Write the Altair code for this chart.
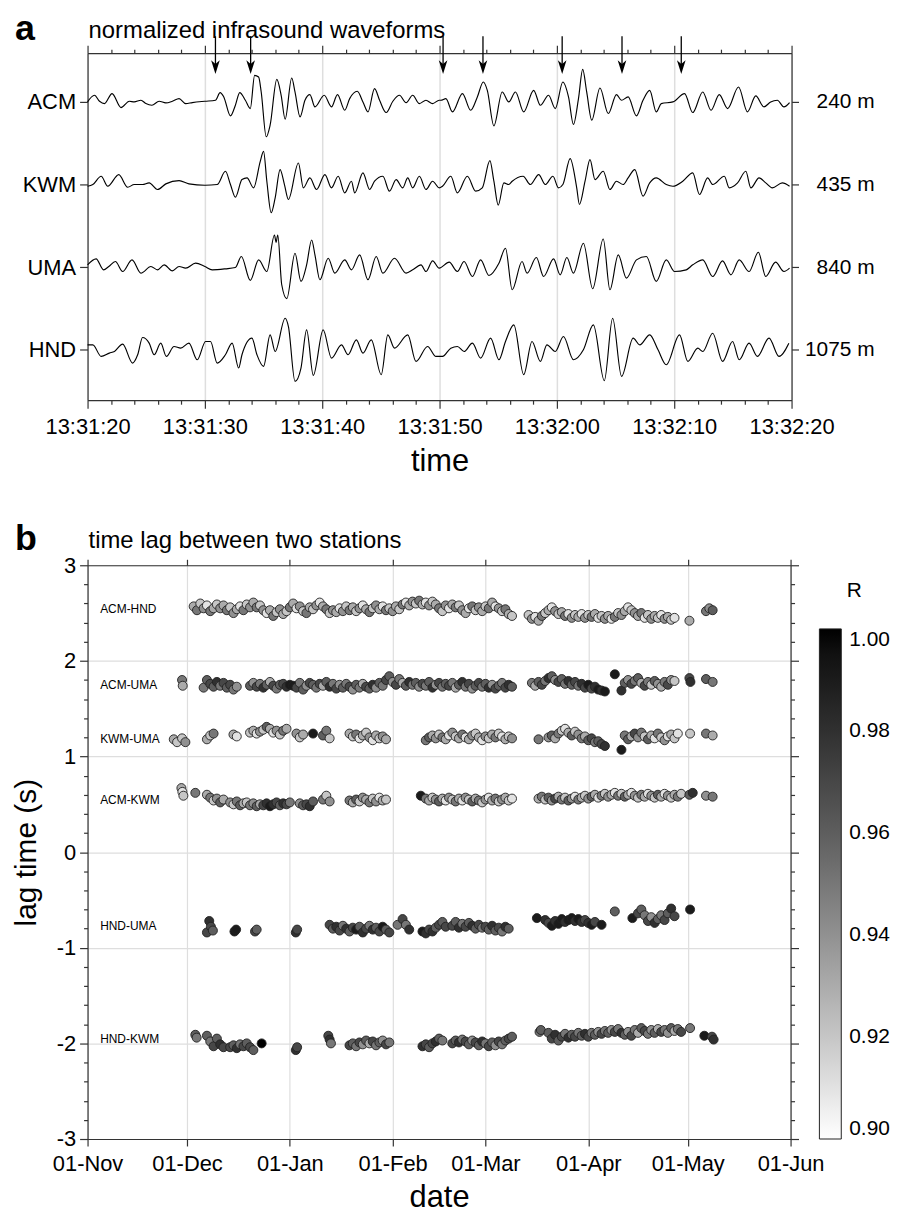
import altair as alt
import pandas as pd

FONT = "Liberation Sans"

# ---------------- panel a: normalized waveforms ----------------
# time in s after 13:31:20, amplitude in arbitrary normalized units
ACM_t = [0, 0.59, 1.02, 1.44, 2.09, 2.85, 3.56, 3.98, 4.55, 4.97, 5.48, 6.10, 6.67, 7.23, 7.80, 8.36, 8.93,
         10.0, 10.90, 11.30, 11.61, 12.18, 12.60, 12.97, 13.45, 13.87, 14.24, 14.58, 14.80, 15.23, 15.56,
         16.13, 16.50, 16.84, 17.40, 17.68, 18.11, 18.53, 18.95, 19.38, 20.17, 20.79, 21.30, 21.92, 22.34,
         22.99, 23.47, 23.90, 24.46, 24.89, 25.45, 26.02, 26.58, 27.15, 27.71, 28.28, 28.84, 29.41, 29.97,
         30.11, 30.54, 31.10, 31.95, 32.65, 33.22, 33.73, 34.07, 34.63, 35.34, 35.90, 36.47, 37.17, 38.02,
         38.59, 39.29, 39.86, 40.51, 40.99, 41.41, 41.84, 42.20, 42.54, 42.97, 43.67, 44.38, 45.08, 45.51,
         46.07, 46.78, 47.34, 47.91, 48.47, 48.90, 49.89, 50.88, 51.58, 52.43, 53.14, 53.84, 54.55, 55.48,
         56.24, 56.95, 57.65, 58.22, 58.79, 59.35, 59.83]
ACM_a = [0, 20, 2, -5, 25, -17, 2, 0, 5, -5, -10, 2, -3, 2, 10, -5, -2,
         2, 5, 28, 15, -42, -10, 28, 5, -20, 80, 75, 30, -105, -70,
         68, 20, -52, 72, 30, -45, 5, 22, -15, 20, -15, 22, -25, 10,
         32, 0, -30, 40, 5, -32, 2, 20, -2, 20, -5, 5, -5, 5,
         5, 10, -30, 25, -25, 15, 60, 35, -72, 30, 0, 30, -30, 35,
         -10, 20, -20, 60, 15, -68, 10, 98, 30, -55, 42, -35, 22, 5,
         15, -42, 5, 35, -30, -5, 0, 25, -32, 30, -25, 22, -20, 45,
         -30, 18, -15, 0, 5, -15, -2]

KWM_t = [0, 0.45, 1.16, 1.72, 2.66, 3.42, 3.98, 4.69, 5.25, 5.96, 6.67, 7.80, 8.64, 10.0, 11.05, 11.75,
         12.18, 12.60, 13.16, 13.59, 14.15, 14.72, 15.0, 15.28, 15.65, 15.99, 16.41, 16.78, 17.12, 17.97,
         18.39, 18.95, 19.52, 20.23, 20.79, 21.36, 21.92, 22.49, 22.77, 23.47, 24.04, 24.46, 25.17, 25.73,
         26.30, 26.86, 27.29, 27.71, 28.28, 28.84, 29.41, 29.97,
         30.25, 30.96, 31.52, 32.37, 33.08, 33.64, 34.29, 34.63, 35.00, 35.48, 35.90, 36.19, 37.12, 37.74,
         38.45, 39.01, 39.66, 40.14, 40.51, 41.13, 41.69, 41.92, 42.40, 42.82, 43.25, 43.95, 44.52, 45.08,
         45.65, 46.07, 46.64, 47.34, 47.91, 48.47, 49.32, 49.89, 50.73, 51.58, 52.15, 52.85, 53.28, 54.27,
         54.69, 55.40, 56.10, 56.53, 57.23, 57.80, 58.36, 59.21, 59.83]
KWM_a = [-5, 0, 25, -5, 30, -8, 0, 0, 5, -15, 2, 12, 2, -2, 0, 40,
         0, -38, 15, 20, -10, 70, 100, 10, -85, -40, 45, 0, -45, 65,
         -10, 20, -15, 30, -10, 25, -25, 10, -25, 35, -15, 10, 25, -20,
         15, -10, 20, -10, 25, -15, 10, -10,
         -5, 25, -25, 25, -20, -10, 72, 10, -62, 5, 0, 10, 25, 0,
         30, 0, 25, -10, 0, 78, -10, -60, 10, 75, 15, 40, -15, 10,
         0, 20, 45, -35, 5, 20, 0, -5, 10, 35, -30, 20, 0, 25,
         -10, 5, 40, -10, 20, 5, -10, 5, -5]

UMA_t = [0, 0.73, 1.36, 1.81, 2.37, 2.99, 3.79, 4.55, 5.40, 5.96, 6.53, 7.23, 7.80, 8.36, 9.21, 10.0,
         10.62, 11.75, 12.60, 13.11, 13.87, 14.58, 15.28, 15.93, 16.07, 16.21, 16.55, 16.98, 17.68, 18.19,
         18.67, 19.10, 19.38, 19.80, 20.51, 21.07, 21.92, 22.49, 23.19, 23.90, 24.60, 25.17, 26.16, 27.15,
         27.71, 28.42, 28.84, 29.41, 29.97,
         30.82, 31.52, 32.09, 32.80, 33.50, 34.21, 35.06, 35.62, 36.19, 37.03, 37.46, 38.25, 38.87, 39.72,
         40.28, 40.85, 41.41, 42.26, 43.05, 43.95, 44.52, 45.23, 45.93, 46.78, 47.63, 48.47, 49.32, 50.03,
         51.02, 51.58, 52.43, 53.28, 54.12, 54.83, 55.54, 56.38, 57.17, 57.80, 58.64, 59.35, 59.83]
UMA_a = [7, 25, -8, 2, 17, -13, 22, -18, 2, -8, 7, -11, 2, -3, 12, 2,
         -8, -5, -1, 32, -40, 22, -13, 97, 75, 97, -53, -95, 42, -43,
         7, 82, 37, -38, 27, -18, 22, -8, 37, -38, 32, -18, 27, -18,
         -8, 7, -13, 19, -3,
         15, -13, 17, -28, 22, -25, 12, 57, -68, 17, -18, 29, -28, 25,
         -23, 29, -18, 72, -65, 85, -68, 37, -33, 22, 32, -43, 22, -13,
         -8, 7, 22, -28, 19, -23, 22, -13, 45, -28, 15, -13, -3]

HND_t = [0, 0.45, 1.16, 1.86, 2.29, 2.99, 3.84, 4.27, 4.69, 5.25, 5.68, 6.24, 6.72, 7.37, 7.94, 8.64,
         9.35, 10.06, 10.48, 11.05, 11.75, 12.32, 12.88, 13.16, 14.01, 14.44, 15.0, 15.56, 15.99, 16.84,
         17.12, 17.68, 18.19, 18.67, 19.24, 20.08, 20.79, 21.64, 22.20, 22.91, 23.47, 24.18, 25.03, 25.59,
         26.16, 27.29, 27.99, 28.98, 29.69,
         30.25, 30.96, 31.52, 32.09, 32.80, 33.50, 34.35, 35.06, 35.62, 36.33, 37.17, 37.88, 38.59, 39.15,
         39.86, 40.56, 41.41, 42.26, 43.11, 44.04, 44.75, 45.51, 46.50, 47.06, 47.91, 48.62, 49.32, 50.45,
         51.16, 52.01, 52.43, 53.28, 54.12, 54.97, 55.54, 56.38, 57.09, 58.08, 58.93, 59.77]
HND_a = [15, 15, -20, -10, -5, 17, -40, -15, 37, 20, -15, 20, -20, 10, 5, 20,
         -30, 25, 25, -40, -15, 20, -55, -15, 35, -15, -50, 45, -5, 95,
         70, -95, -55, 60, -77, 60, -25, 15, -15, 30, -10, 30, -75, 45,
         5, 45, -35, 10, -20,
         -20, 5, 10, -5, 20, -25, 35, -30, 25, 75, -75, 25, -35, 15,
         -5, 40, -30, 0, 75, -93, 95, -80, 35, 15, 45, 0, -45, 45,
         -35, 5, -5, 50, -35, 25, -30, 20, -20, 35, -20, 20]

STATIONS = ["ACM", "KWM", "UMA", "HND"]
DISTANCES = ["240 m", "435 m", "840 m", "1075 m"]
ARROW_t = [10.9, 13.9, 30.3, 33.7, 40.45, 45.55, 50.6]
TIME_TICKS = [0, 10, 20, 30, 40, 50, 60]
TIME_LABELS = ["13:31:20", "13:31:30", "13:31:40", "13:31:50", "13:32:00", "13:32:10", "13:32:20"]

# ---------------- panel b: lag times ----------------
# segments: (first day after 01-Nov, daily lag values [s], daily R values)
ACM_HND = [
    (32, [2.57, 2.53, 2.60, 2.55, 2.58, 2.52, 2.55, 2.59, 2.55, 2.58,
          2.53, 2.56, 2.50, 2.54, 2.57, 2.53, 2.59, 2.56, 2.61, 2.56,
          2.58, 2.53, 2.50, 2.53, 2.47, 2.51, 2.54, 2.49, 2.52, 2.56,
          2.60, 2.55, 2.57, 2.52, 2.50, 2.56, 2.54, 2.58, 2.61, 2.57,
          2.54, 2.50, 2.53, 2.51, 2.55, 2.52, 2.57, 2.53, 2.56, 2.52,
          2.55, 2.58, 2.54, 2.51, 2.55, 2.58, 2.54, 2.57, 2.53, 2.55,
          2.52, 2.57, 2.54, 2.59, 2.61, 2.58, 2.62, 2.60, 2.63, 2.59,
          2.61, 2.58, 2.62, 2.59, 2.55, 2.52, 2.58, 2.55, 2.59, 2.56,
          2.58, 2.53, 2.50, 2.55, 2.57, 2.53, 2.56, 2.52, 2.57, 2.55,
          2.61, 2.57, 2.55, 2.52, 2.54, 2.49, 2.47],
         [0.93, 0.95, 0.92, 0.94, 0.91, 0.95, 0.93, 0.92, 0.94, 0.93,
          0.95, 0.92, 0.94, 0.93, 0.91, 0.95, 0.92, 0.94, 0.93, 0.95,
          0.92, 0.94, 0.91, 0.93, 0.95, 0.92, 0.94, 0.93, 0.92, 0.95,
          0.93, 0.91, 0.94, 0.92, 0.95, 0.93, 0.92, 0.94, 0.91, 0.93,
          0.95, 0.92, 0.94, 0.93, 0.91, 0.94, 0.92, 0.95, 0.93, 0.92,
          0.94, 0.91, 0.93, 0.95, 0.92, 0.94, 0.93, 0.91, 0.95, 0.92,
          0.94, 0.93, 0.92, 0.95, 0.91, 0.93, 0.94, 0.92, 0.95, 0.93,
          0.91, 0.94, 0.92, 0.93, 0.95, 0.92, 0.94, 0.91, 0.93, 0.95,
          0.92, 0.94, 0.93, 0.91, 0.95, 0.92, 0.94, 0.93, 0.92, 0.95,
          0.93, 0.91, 0.94, 0.92, 0.95, 0.93, 0.92]),
    (133, [2.48, 2.44, 2.46, 2.42, 2.47, 2.50, 2.53, 2.56, 2.52, 2.49,
           2.51, 2.47, 2.49, 2.45, 2.48, 2.46, 2.49, 2.45, 2.48, 2.46,
           2.49, 2.45, 2.47, 2.44, 2.47, 2.44, 2.46, 2.50, 2.48, 2.52,
           2.56, 2.53, 2.50, 2.47, 2.50, 2.45, 2.48, 2.44, 2.47, 2.45,
           2.48, 2.44, 2.46, 2.43, 2.45],
          [0.92, 0.94, 0.91, 0.93, 0.95, 0.92, 0.93, 0.91, 0.94, 0.92,
           0.93, 0.95, 0.91, 0.94, 0.92, 0.93, 0.91, 0.94, 0.92, 0.95,
           0.93, 0.91, 0.92, 0.94, 0.93, 0.91, 0.95, 0.92, 0.94, 0.93,
           0.91, 0.92, 0.94, 0.93, 0.95, 0.91, 0.92, 0.94, 0.93, 0.92,
           0.91, 0.94, 0.93, 0.92, 0.91]),
    (181.5, [2.42], [0.93]), (186.5, [2.52], [0.95]), (187.5, [2.55], [0.94]), (188.5, [2.53], [0.96]),
]

ACM_UMA = [
    (28.5, [1.80], [0.95]), (28.7, [1.74], [0.93]),
    (35, [1.72, 1.80, 1.76, 1.73, 1.78, 1.74, 1.77, 1.72, 1.75, 1.70, 1.73],
         [0.95, 0.96, 0.97, 0.96, 0.98, 0.95, 0.97, 0.96, 0.97, 0.95, 0.94]),
    (49, [1.74, 1.77, 1.73, 1.76, 1.72, 1.75, 1.78, 1.74, 1.71, 1.75,
          1.76, 1.73, 1.75, 1.74, 1.72, 1.77, 1.70, 1.74, 1.77, 1.75,
          1.72, 1.76, 1.74, 1.78, 1.73, 1.76, 1.71, 1.75, 1.72, 1.76,
          1.73, 1.70, 1.75, 1.72, 1.76, 1.73, 1.71, 1.75, 1.72, 1.77,
          1.74, 1.80, 1.84, 1.78, 1.75, 1.81, 1.77, 1.74, 1.78, 1.75,
          1.77, 1.73, 1.76, 1.74, 1.78, 1.72, 1.75, 1.77, 1.73, 1.76,
          1.74, 1.77, 1.72, 1.75, 1.78, 1.73, 1.76, 1.71, 1.74, 1.77,
          1.73, 1.76, 1.72, 1.75, 1.71, 1.74, 1.77, 1.72, 1.75, 1.73],
         [0.96, 0.94, 0.97, 0.95, 0.98, 0.96, 0.93, 0.97, 0.95, 0.96,
          0.97, 0.98, 0.99, 0.99, 0.97, 0.95, 0.96, 0.94, 0.97, 0.96,
          0.95, 0.97, 0.93, 0.96, 0.98, 0.95, 0.97, 0.94, 0.96, 0.95,
          0.97, 0.94, 0.96, 0.95, 0.93, 0.97, 0.96, 0.98, 0.94, 0.96,
          0.95, 0.97, 0.96, 0.94, 0.97, 0.95, 0.93, 0.96, 0.98, 0.95,
          0.96, 0.94, 0.97, 0.95, 0.96, 0.98, 0.94, 0.97, 0.95, 0.96,
          0.97, 0.95, 0.93, 0.96, 0.98, 0.95, 0.97, 0.94, 0.96, 0.97,
          0.95, 0.96, 0.98, 0.94, 0.97, 0.96, 0.95, 0.97, 0.98, 0.96]),
    (134, [1.77, 1.74, 1.78, 1.75, 1.79, 1.82, 1.84, 1.80, 1.78, 1.81, 1.76, 1.79,
           1.75, 1.78, 1.74, 1.76, 1.72, 1.75, 1.71, 1.73, 1.70, 1.69, 1.68],
          [0.95, 0.93, 0.96, 0.97, 0.95, 0.98, 0.96, 0.94, 0.97, 0.96, 0.95, 0.98,
           0.96, 0.97, 0.95, 0.98, 0.97, 0.99, 0.97, 0.98, 0.99, 0.98, 0.99]),
    (159, [1.86], [0.99]), (161, [1.69], [0.98]),
    (162, [1.77, 1.80, 1.76, 1.79, 1.82, 1.77, 1.74, 1.78, 1.75, 1.79, 1.76, 1.73, 1.78, 1.75, 1.80, 1.79],
          [0.96, 0.94, 0.97, 0.95, 0.96, 0.93, 0.97, 0.95, 0.92, 0.96, 0.94, 0.93, 0.95, 0.97, 0.94, 0.92]),
    (181.5, [1.82], [0.97]), (181.8, [1.78], [0.98]), (186.5, [1.81], [0.96]), (188.5, [1.78], [0.95]),
]

KWM_UMA = [
    (26, [1.18, 1.15], [0.93, 0.92]), (28.5, [1.19, 1.15], [0.92, 0.94]),
    (36, [1.18, 1.22, 1.24], [0.93, 0.92, 0.95]),
    (44, [1.23, 1.21], [0.93, 0.91]),
    (49, [1.25, 1.27, 1.24, 1.26, 1.28, 1.31, 1.29, 1.25, 1.27, 1.23, 1.27, 1.29],
         [0.92, 0.93, 0.91, 0.94, 0.92, 0.96, 0.93, 0.91, 0.94, 0.92, 0.95, 0.93]),
    (63, [1.24, 1.20, 1.23], [0.94, 0.92, 0.93]),
    (68, [1.24], [0.99]),
    (71, [1.22, 1.27, 1.19], [0.96, 0.95, 0.92]),
    (79, [1.24, 1.21, 1.23, 1.19, 1.22, 1.25, 1.20, 1.17, 1.22, 1.19, 1.21, 1.18],
         [0.93, 0.92, 0.95, 0.91, 0.93, 0.92, 0.94, 0.91, 0.93, 0.92, 0.94, 0.93]),
    (102, [1.17, 1.20, 1.22, 1.19, 1.23, 1.20, 1.18, 1.22, 1.25, 1.21,
           1.19, 1.23, 1.20, 1.18, 1.22, 1.24, 1.20, 1.17, 1.21, 1.19,
           1.23, 1.20, 1.24, 1.21, 1.18, 1.21, 1.19],
          [0.95, 0.96, 0.93, 0.94, 0.92, 0.95, 0.93, 0.91, 0.94, 0.92,
           0.93, 0.95, 0.91, 0.93, 0.94, 0.92, 0.93, 0.91, 0.94, 0.92,
           0.93, 0.95, 0.92, 0.91, 0.93, 0.92, 0.94]),
    (136, [1.18], [0.95]),
    (139, [1.20, 1.22, 1.19, 1.24, 1.27, 1.29, 1.25, 1.22, 1.26, 1.23, 1.19, 1.21,
           1.17, 1.19, 1.15, 1.16, 1.13, 1.11],
          [0.94, 0.96, 0.93, 0.95, 0.92, 0.91, 0.93, 0.96, 0.92, 0.94, 0.95, 0.93,
           0.96, 0.97, 0.95, 0.96, 0.97, 0.98]),
    (161, [1.07], [0.99]),
    (162, [1.22, 1.18, 1.21, 1.24, 1.20, 1.25, 1.21, 1.18, 1.22, 1.19, 1.24, 1.20,
           1.17, 1.21, 1.23, 1.19, 1.24],
          [0.95, 0.96, 0.93, 0.97, 0.94, 0.95, 0.92, 0.96, 0.93, 0.91, 0.95, 0.92,
           0.94, 0.91, 0.93, 0.92, 0.91]),
    (181.7, [1.24], [0.92]), (186.5, [1.24], [0.95]), (188.5, [1.22], [0.93]),
]

ACM_KWM = [
    (28.3, [0.67], [0.93]), (28.6, [0.63], [0.91]), (28.9, [0.59], [0.92]),
    (32.5, [0.62], [0.95]),
    (36, [0.60, 0.57, 0.54, 0.56, 0.52, 0.55], [0.93, 0.95, 0.92, 0.94, 0.96, 0.93]),
    (43, [0.52, 0.50, 0.53, 0.49, 0.51, 0.52, 0.49, 0.51, 0.48, 0.50,
          0.49, 0.51, 0.48, 0.50, 0.52, 0.49, 0.51, 0.50, 0.52],
         [0.94, 0.92, 0.95, 0.96, 0.93, 0.92, 0.95, 0.94, 0.96, 0.93,
          0.97, 0.98, 0.99, 0.98, 0.97, 0.96, 0.98, 0.97, 0.95]),
    (64, [0.51, 0.49, 0.50, 0.48, 0.53], [0.94, 0.96, 0.97, 0.98, 0.96]),
    (71, [0.55, 0.59, 0.53], [0.95, 0.92, 0.94]),
    (79, [0.54, 0.52, 0.55, 0.53, 0.57, 0.55, 0.52, 0.56, 0.53, 0.57, 0.54, 0.55],
         [0.95, 0.93, 0.96, 0.92, 0.94, 0.93, 0.95, 0.92, 0.94, 0.91, 0.93, 0.92]),
    (100.5, [0.59], [0.99]),
    (102, [0.56, 0.54, 0.57, 0.55, 0.53, 0.56, 0.54, 0.57, 0.55, 0.53,
           0.56, 0.54, 0.57, 0.55, 0.53, 0.56, 0.54, 0.52, 0.55, 0.57,
           0.54, 0.56, 0.53, 0.55, 0.57, 0.54, 0.56],
          [0.95, 0.93, 0.92, 0.94, 0.96, 0.93, 0.91, 0.94, 0.92, 0.95,
           0.93, 0.91, 0.94, 0.92, 0.96, 0.93, 0.95, 0.92, 0.94, 0.91,
           0.93, 0.95, 0.92, 0.94, 0.93, 0.92, 0.91]),
    (136, [0.56, 0.58, 0.55, 0.57, 0.54, 0.56, 0.58, 0.55, 0.57, 0.54,
           0.56, 0.58, 0.55, 0.57, 0.59, 0.56, 0.58, 0.60, 0.57, 0.59,
           0.61, 0.58, 0.60, 0.62, 0.59, 0.61, 0.58, 0.60, 0.62, 0.59,
           0.57, 0.60, 0.58, 0.61, 0.59, 0.57, 0.60, 0.58, 0.61, 0.59,
           0.57, 0.60, 0.58, 0.61],
          [0.93, 0.95, 0.92, 0.96, 0.94, 0.97, 0.93, 0.95, 0.92, 0.96,
           0.94, 0.91, 0.95, 0.93, 0.92, 0.94, 0.96, 0.93, 0.91, 0.95,
           0.92, 0.94, 0.93, 0.91, 0.95, 0.92, 0.96, 0.93, 0.91, 0.94,
           0.92, 0.95, 0.93, 0.91, 0.94, 0.92, 0.96, 0.93, 0.91, 0.94,
           0.92, 0.93, 0.95, 0.92]),
    (181.5, [0.60], [0.96]), (182.5, [0.62], [0.98]), (186.5, [0.59], [0.94]), (188.5, [0.58], [0.95]),
]

HND_UMA = [
    (36, [-0.84], [0.97]), (36.7, [-0.72], [0.98]), (37.2, [-0.78], [0.97]), (37.8, [-0.82], [0.96]),
    (44.3, [-0.83], [0.99]), (44.8, [-0.81], [0.99]),
    (50.5, [-0.83], [0.97]), (51, [-0.81], [0.96]),
    (62.8, [-0.84], [0.98]), (63.2, [-0.81], [0.97]),
    (73, [-0.76, -0.80, -0.78, -0.82, -0.77, -0.80, -0.83, -0.79, -0.81, -0.78,
          -0.84, -0.80, -0.77, -0.81, -0.79, -0.83, -0.78, -0.81, -0.84],
         [0.97, 0.96, 0.98, 0.97, 0.95, 0.98, 0.96, 0.97, 0.99, 0.96,
          0.98, 0.97, 0.95, 0.98, 0.96, 0.97, 0.99, 0.96, 0.97]),
    (93.5, [-0.76], [0.95]),
    (95, [-0.70, -0.76, -0.81], [0.97, 0.95, 0.98]),
    (101, [-0.83, -0.85, -0.81, -0.83, -0.79, -0.76, -0.73, -0.78],
          [0.99, 0.98, 0.97, 0.98, 0.96, 0.97, 0.96, 0.97]),
    (110, [-0.77, -0.73, -0.79, -0.75, -0.78, -0.74, -0.77, -0.80, -0.76,
           -0.79, -0.78, -0.81, -0.77, -0.82, -0.79, -0.83, -0.78, -0.80],
          [0.97, 0.96, 0.98, 0.95, 0.97, 0.96, 0.98, 0.96, 0.97,
           0.95, 0.97, 0.96, 0.98, 0.96, 0.97, 0.95, 0.98, 0.96]),
    (135.5, [-0.69], [0.99]),
    (138, [-0.71, -0.74, -0.77, -0.72, -0.75, -0.70, -0.73, -0.71,
           -0.69, -0.72, -0.70, -0.73, -0.71, -0.74, -0.76, -0.73],
          [0.98, 0.97, 0.99, 0.98, 0.99, 0.99, 0.98, 0.99,
           0.99, 0.98, 0.99, 0.98, 0.97, 0.98, 0.99, 0.97]),
    (155, [-0.76], [0.99]), (159, [-0.62], [0.96]), (164.3, [-0.69], [0.99]),
    (166, [-0.64, -0.60, -0.66, -0.72, -0.68, -0.74, -0.70, -0.66, -0.71, -0.64, -0.59, -0.67],
          [0.97, 0.96, 0.95, 0.97, 0.94, 0.98, 0.96, 0.95, 0.97, 0.96, 0.98, 0.97]),
    (181.7, [-0.60], [0.99]),
]

HND_KWM = [
    (32.5, [-1.91], [0.96]), (32.9, [-1.94], [0.95]),
    (36, [-1.92, -1.98, -2.03, -1.95, -2.01, -2.04], [0.96, 0.95, 0.97, 0.96, 0.98, 0.97]),
    (43, [-2.04, -2.02, -2.05, -2.01, -2.03, -2.00, -2.04, -2.07],
         [0.97, 0.96, 0.98, 0.95, 0.97, 0.96, 0.97, 0.96]),
    (52.5, [-2.00], [1.0]),
    (62.8, [-2.07], [0.98]), (63.2, [-2.04], [0.97]),
    (72.6, [-1.92], [0.97]), (73, [-1.96], [0.98]), (73.4, [-2.00], [0.95]),
    (79, [-2.02, -2.00, -2.03, -1.99, -2.01, -1.97, -2.00, -1.98, -2.02, -1.99, -1.97, -2.01, -1.99],
         [0.97, 0.96, 0.95, 0.97, 0.94, 0.96, 0.93, 0.97, 0.95, 0.96, 0.94, 0.97, 0.95]),
    (101, [-2.03, -2.01, -2.04, -2.00, -1.98, -1.95, -1.97],
          [0.98, 0.97, 0.96, 0.97, 0.98, 0.96, 0.95]),
    (110, [-2.00, -1.97, -1.99, -1.96, -1.98, -2.01, -1.97, -1.99, -2.02, -1.98,
           -2.00, -2.03, -1.99, -2.02, -1.98, -2.01, -1.97, -1.95, -1.93],
          [0.97, 0.96, 0.98, 0.95, 0.97, 0.96, 0.94, 0.97, 0.96, 0.98,
           0.95, 0.97, 0.96, 0.94, 0.97, 0.95, 0.96, 0.97, 0.96]),
    (136.3, [-1.88], [0.95]), (136.7, [-1.86], [0.96]),
    (139, [-1.89, -1.95, -1.91, -1.97, -1.93, -1.90, -1.94, -1.91, -1.93, -1.89,
           -1.92, -1.90, -1.93, -1.89, -1.91, -1.88, -1.90, -1.87, -1.89, -1.86,
           -1.88, -1.85, -1.89, -1.91, -1.88, -1.92, -1.86, -1.89, -1.84, -1.87,
           -1.90, -1.86, -1.89, -1.85, -1.88, -1.86, -1.89, -1.84, -1.87, -1.85, -1.88],
          [0.96, 0.97, 0.98, 0.96, 0.97, 0.95, 0.98, 0.96, 0.97, 0.95,
           0.96, 0.98, 0.97, 0.95, 0.96, 0.94, 0.97, 0.95, 0.96, 0.94,
           0.97, 0.95, 0.98, 0.96, 0.94, 0.97, 0.95, 0.93, 0.96, 0.97,
           0.95, 0.94, 0.96, 0.93, 0.97, 0.95, 0.94, 0.96, 0.93, 0.95, 0.97]),
    (181.7, [-1.84], [0.95]), (186, [-1.92], [0.99]), (188.3, [-1.93], [0.97]), (188.8, [-1.96], [0.98]),
]

PAIRS = ["ACM-HND", "ACM-UMA", "KWM-UMA", "ACM-KWM", "HND-UMA", "HND-KWM"]
PAIR_LABEL_LAG = [2.54, 1.75, 1.18, 0.55, -0.77, -1.95]
PAIR_LABEL_DAY = 3.8
MONTH_DAYS = [0, 30, 61, 92, 120, 151, 181, 212]
MONTH_LABELS = ["01-Nov", "01-Dec", "01-Jan", "01-Feb", "01-Mar", "01-Apr", "01-May", "01-Jun"]
LAG_TICKS = [-3, -2.8, -2.6, -2.4, -2.2, -2, -1.8, -1.6, -1.4, -1.2, -1, -0.8, -0.6, -0.4, -0.2,
             0, 0.2, 0.4, 0.6, 0.8, 1, 1.2, 1.4, 1.6, 1.8, 2, 2.2, 2.4, 2.6, 2.8, 3]
R_TICKS = [0.90, 0.92, 0.94, 0.96, 0.98, 1.00]

# ---------------- build tables ----------------
wave_rows = []
for k, (name, ts, amps) in enumerate([("ACM", ACM_t, ACM_a), ("KWM", KWM_t, KWM_a),
                                       ("UMA", UMA_t, UMA_a), ("HND", HND_t, HND_a)]):
    base = 4 - k
    for t, a in zip(ts, amps):
        wave_rows.append({"station": name, "t": t, "y": base + a / 249.0})
wave = pd.DataFrame(wave_rows)
arrows = pd.DataFrame({"t": ARROW_t})

pt_rows = []
for name, segs in zip(PAIRS, [ACM_HND, ACM_UMA, KWM_UMA, ACM_KWM, HND_UMA, HND_KWM]):
    for start, lags, rs in segs:
        for i, (lag, r) in enumerate(zip(lags, rs)):
            pt_rows.append({"pair": name, "day": start + i, "lag": lag, "R": r})
pts = pd.DataFrame(pt_rows)
pair_lab = pd.DataFrame({"pair": PAIRS, "lag": PAIR_LABEL_LAG, "day": [PAIR_LABEL_DAY] * len(PAIRS)})

AX = "#333333"
GRID = "#dedede"


def ternary(values, labels, default="''"):
    expr = default
    for v, l in reversed(list(zip(values, labels))):
        expr = f"datum.value == {v} ? '{l}' : " + expr
    return expr


# ---------------- panel a ----------------
minor_t = list(range(0, 61, 2))
tick_a = {"condition": {"test": "datum.value % 10 === 0", "value": 8}, "value": 4}
grid_a = {"condition": {"test": "datum.value % 10 === 0", "value": 1}, "value": 0}
xs_a = alt.Scale(domain=[0, 60], nice=False, zero=False)
ys_a = alt.Scale(domain=[0.39, 4.59], nice=False, zero=False)

lines = alt.Chart(wave).mark_line(color="black", strokeWidth=1.15, interpolate="monotone").encode(
    x=alt.X("t:Q", scale=xs_a, title="time",
            axis=alt.Axis(orient="bottom", values=minor_t, labelExpr=ternary(TIME_TICKS, TIME_LABELS),
                          labelFlush=False, labelOverlap=False, tickSize=tick_a, grid=True,
                          gridOpacity=grid_a, gridColor=GRID, gridWidth=1.5,
                          labelFontSize=22, labelPadding=8, titleFontSize=31, titleFontWeight="normal",
                          titlePadding=10, domainColor=AX, tickColor=AX, labelColor="black",
                          titleColor="black", domainWidth=1.2, tickWidth=1.2)),
    y=alt.Y("y:Q", scale=ys_a, title=None,
            axis=alt.Axis(orient="left", values=[1, 2, 3, 4], labelExpr=ternary([4, 3, 2, 1], STATIONS),
                          tickSize=8, grid=False, labelFontSize=22, labelPadding=4, domainColor=AX,
                          tickColor=AX, labelColor="black", domainWidth=1.2, tickWidth=1.2)),
    detail="station:N",
)
frame_a = alt.Chart(wave).mark_line(opacity=0).encode(
    x=alt.X("t:Q", scale=xs_a, title=None,
            axis=alt.Axis(orient="top", values=minor_t, labels=False, tickSize=tick_a, grid=False,
                          domainColor=AX, tickColor=AX, domainWidth=1.2, tickWidth=1.2)),
    y=alt.Y("y:Q", scale=ys_a, title=None,
            axis=alt.Axis(orient="right", values=[1, 2, 3, 4], labelExpr=ternary([4, 3, 2, 1], DISTANCES),
                          labelAlign="right", labelPadding=76, tickSize=7, grid=False, labelFontSize=21,
                          domainColor=AX, tickColor=AX, labelColor="black", domainWidth=1.2, tickWidth=1.2)),
    detail="station:N",
)
arrow_lines = alt.Chart(arrows).mark_rule(color="black", strokeWidth=1.3).encode(
    x=alt.X("t:Q", scale=xs_a, axis=None), y=alt.value(-17), y2=alt.value(14))
arrow_heads = alt.Chart(arrows).mark_point(
    shape="M -0.62 -1 L 0 1 L 0.62 -1 L 0 -0.45 Z", filled=True, color="black", opacity=1, size=196,
    strokeWidth=0).encode(x=alt.X("t:Q", scale=xs_a, axis=None), y=alt.value(14))
title_a = alt.Chart(pd.DataFrame({"txt": ["normalized infrasound waveforms"]})).mark_text(
    align="left", baseline="alphabetic", fontSize=24, font=FONT, color="black").encode(
    text="txt:N", x=alt.value(1), y=alt.value(-15))
letter_a = alt.Chart(pd.DataFrame({"txt": ["a"]})).mark_text(
    align="left", baseline="alphabetic", fontSize=36, fontWeight="bold", font=FONT, color="black").encode(
    text="txt:N", x=alt.value(-73), y=alt.value(-13))

panel_a = alt.layer(lines, frame_a, arrow_lines, arrow_heads, title_a, letter_a).resolve_axis(
    x="independent", y="independent").properties(width=708, height=349)

# ---------------- panel b ----------------
int_test = "abs(datum.value - round(datum.value)) < 0.01"
tick_b = {"condition": {"test": int_test, "value": 8}, "value": 4}
grid_b = {"condition": {"test": int_test, "value": 1}, "value": 0}
xs_b = alt.Scale(domain=[0, 212], nice=False, zero=False)
ys_b = alt.Scale(domain=[-3, 3], nice=False, zero=False)

points = alt.Chart(pts).mark_circle(size=82, opacity=1, stroke="#222222", strokeWidth=0.9).encode(
    x=alt.X("day:Q", scale=xs_b, title="date",
            axis=alt.Axis(orient="bottom", values=MONTH_DAYS, labelExpr=ternary(MONTH_DAYS, MONTH_LABELS),
                          labelFlush=False, labelOverlap=False, tickSize=7, grid=True, gridColor=GRID,
                          gridWidth=1.2, labelFontSize=22, labelPadding=8, titleFontSize=31,
                          titleFontWeight="normal", titlePadding=8, domainColor=AX, tickColor=AX,
                          labelColor="black", titleColor="black", domainWidth=1.2, tickWidth=1.2)),
    y=alt.Y("lag:Q", scale=ys_b, title="lag time (s)",
            axis=alt.Axis(orient="left", values=LAG_TICKS,
                          labelExpr=f"{int_test} ? '' + round(datum.value) : ''",
                          labelOverlap=False, tickSize=tick_b, grid=True, gridOpacity=grid_b,
                          gridColor=GRID, gridWidth=1.2, labelFontSize=22, labelPadding=4,
                          titleFontSize=30, titleFontWeight="normal", titlePadding=15, domainColor=AX,
                          tickColor=AX, labelColor="black", titleColor="black", domainWidth=1.2,
                          tickWidth=1.2)),
    color=alt.Color("R:Q", scale=alt.Scale(domain=[0.9, 1.0], range=["#ffffff", "#000000"], clamp=True),
                    legend=alt.Legend(title="R", orient="none", legendX=736, legendY=15,
                                      direction="vertical", gradientLength=513, gradientThickness=22,
                                      values=R_TICKS, format=".2f", labelFontSize=21, titleFontSize=21,
                                      titleFontWeight="normal", titlePadding=28, titleAnchor="middle",
                                      gradientStrokeColor="#222222", gradientStrokeWidth=1,
                                      labelOffset=8, labelOverlap=False, labelColor="black",
                                      titleColor="black")),
)
frame_b = alt.Chart(pts).mark_circle(opacity=0).encode(
    x=alt.X("day:Q", scale=xs_b, title=None,
            axis=alt.Axis(orient="top", values=MONTH_DAYS, labels=False, tickSize=6, grid=False,
                          domainColor=AX, tickColor=AX, domainWidth=1.2, tickWidth=1.2)),
    y=alt.Y("lag:Q", scale=ys_b, title=None,
            axis=alt.Axis(orient="right", values=LAG_TICKS, labels=False, tickSize=tick_b, grid=False,
                          domainColor=AX, tickColor=AX, domainWidth=1.2, tickWidth=1.2)),
)
pair_text = alt.Chart(pair_lab).mark_text(align="left", baseline="middle", fontSize=12, font=FONT,
                                          color="black").encode(
    x=alt.X("day:Q", scale=xs_b, axis=None), y=alt.Y("lag:Q", scale=ys_b, axis=None), text="pair:N")
title_b = alt.Chart(pd.DataFrame({"txt": ["time lag between two stations"]})).mark_text(
    align="left", baseline="alphabetic", fontSize=24, font=FONT, color="black").encode(
    text="txt:N", x=alt.value(1), y=alt.value(-17))
letter_b = alt.Chart(pd.DataFrame({"txt": ["b"]})).mark_text(
    align="left", baseline="alphabetic", fontSize=36, fontWeight="bold", font=FONT, color="black").encode(
    text="txt:N", x=alt.value(-73), y=alt.value(-15))

panel_b = alt.layer(points, frame_b, pair_text, title_b, letter_b).resolve_axis(
    x="independent", y="independent").properties(width=707, height=577)

chart = alt.vconcat(panel_a, panel_b, spacing=45).resolve_scale(color="independent").properties(
    padding={"left": 3, "top": 0, "right": 0, "bottom": 0}
).configure(font=FONT).configure_view(strokeWidth=0)

chart.save("out.html", embed_options={"renderer": "svg", "actions": False})
